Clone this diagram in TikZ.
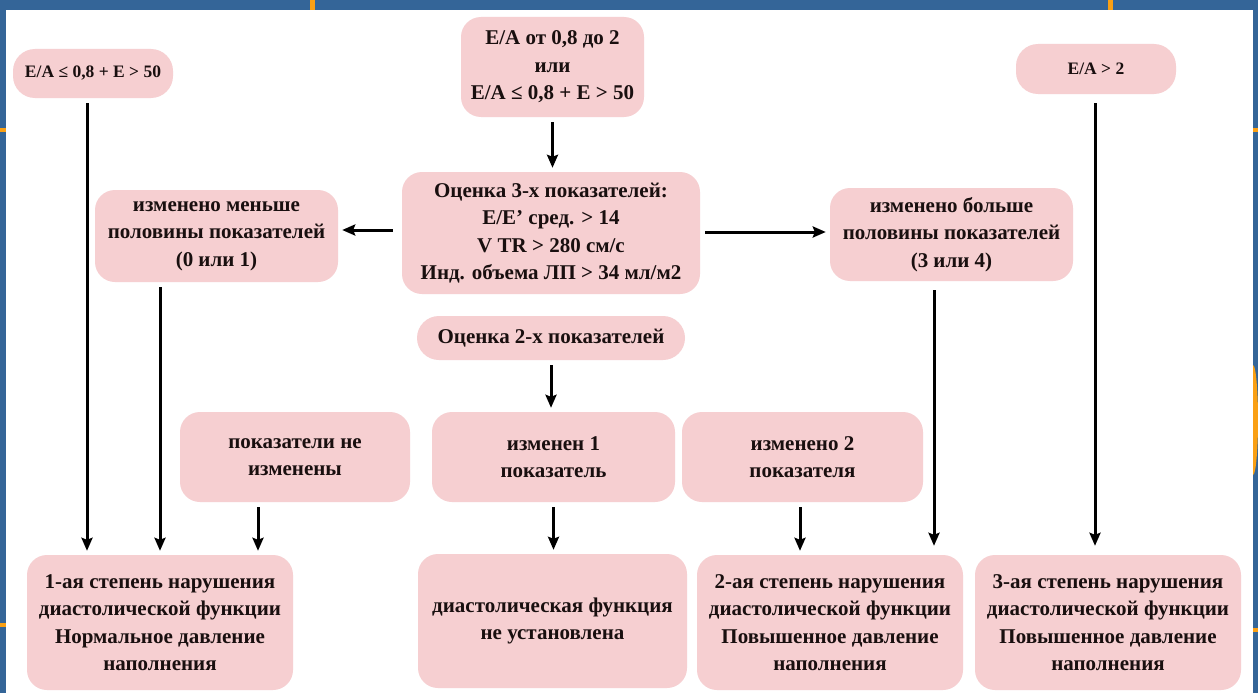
\documentclass[tikz,border=0pt]{standalone}
\usepackage{fontspec}
\setmainfont{Liberation Serif}
\usetikzlibrary{arrows.meta}
\definecolor{slideblue}{RGB}{52,101,152}
\definecolor{slideorange}{RGB}{250,160,20}
\definecolor{boxpink}{RGB}{246,207,209}
\definecolor{boxtext}{RGB}{25,15,15}
\tikzset{
  box/.style={fill=boxpink, rounded corners=20pt, align=center, inner sep=0pt,
    text=boxtext, font=\bfseries\fontsize{21}{27.5}\selectfont},
  pill/.style={box, rounded corners=22pt, font=\bfseries\fontsize{17.5}{22}\selectfont},
  arr/.style={->, >={Stealth[length=13pt,width=11pt,inset=2pt]}, line width=3pt,
    shorten <=5pt, shorten >=4pt}
}
\begin{document}
\begin{tikzpicture}[x=1pt,y=-1pt]
\useasboundingbox (0,0) rectangle (1258,693);
% Slide behind
\fill[slideblue] (0,0) rectangle (1258,693);
\fill[slideorange] (310,0) rectangle (315,10);
\fill[slideorange] (1108,0) rectangle (1113,10);
\fill[slideorange] (0,128) rectangle (6,132);
\fill[slideorange] (0,623) rectangle (6,627);
\fill[slideorange] (1253,128) rectangle (1258,132);
\fill[slideorange] (1253,628) rectangle (1258,632);
\fill[slideorange] (1253,365) arc[start angle=90,end angle=-90,x radius=5,y radius=-55] -- cycle;
\fill[white] (6,10) rectangle (1253,693);

% Top row
\node[pill, minimum width=160pt, minimum height=49pt] (ea1) at (93,73.5) {E/A ≤ 0,8 + E > 50};
\node[box, minimum width=183pt, minimum height=100pt] (ea2) at (552.5,67) {E/A от 0,8 до 2\\или\\E/A ≤ 0,8 + E > 50};
\node[pill, minimum width=160pt, minimum height=50pt] (ea3) at (1096,69) {E/A > 2};

% Three indices
\node[box, minimum width=298pt, minimum height=122pt] (est3) at (551,233) {Оценка 3-х показателей:\\E/E’ сред. > 14\\V TR > 280 см/с\\Инд. объема ЛП > 34 мл/м2};
\node[box, minimum width=243pt, minimum height=92pt] (less) at (216.5,236) {изменено меньше\\половины показателей\\(0 или 1)};
\node[box, minimum width=243pt, minimum height=93pt] (more) at (951.5,234.5) {изменено больше\\половины показателей\\(3 или 4)};

% Two indices
\node[box, rounded corners=22pt, minimum width=268pt, minimum height=44pt] (est2) at (551,338) {Оценка 2-х показателей};
\node[box, minimum width=230pt, minimum height=90pt] (none) at (295,457) {показатели не\\изменены};
\node[box, minimum width=243pt, minimum height=90pt] (one) at (553.5,457) {изменен 1\\показатель};
\node[box, minimum width=241pt, minimum height=90pt] (two) at (802.5,457) {изменено 2\\показателя};

% Grades
\node[box, minimum width=266pt, minimum height=135pt] (g1) at (160,622.5) {1-ая степень нарушения\\диастолической функции\\Нормальное давление\\наполнения};
\node[box, minimum width=269pt, minimum height=134pt] (gx) at (552.5,621) {диастолическая функция\\не установлена};
\node[box, minimum width=266pt, minimum height=135pt] (g2) at (830,622.5) {2-ая степень нарушения\\диастолической функции\\Повышенное давление\\наполнения};
\node[box, minimum width=266pt, minimum height=135pt] (g3) at (1108,622.5) {3-ая степень нарушения\\диастолической функции\\Повышенное давление\\наполнения};

% Arrows
\draw[arr] ([xshift=-6pt]ea1.south) -- ([xshift=-6pt]ea1.south |- g1.north);
\draw[arr] (less.south -| g1.north) -- (g1.north);
\draw[arr] ([xshift=-37pt]none.south) -- ([xshift=-37pt]none.south |- g1.north);
\draw[arr] (ea2.south) -- (ea2.south |- est3.north);
\draw[arr, shorten <=9pt] ([yshift=3pt]est3.west) -- ([yshift=3pt]est3.west -| less.east);
\draw[arr] ([yshift=1pt]est3.east) -- ([yshift=1pt]est3.east -| more.west);
\draw[arr] (est2.south) -- (est2.south |- one.north);
\draw[arr] (one.south) -- (one.south |- gx.north);
\draw[arr] ([xshift=-2.5pt]two.south) -- ([xshift=-2.5pt]two.south |- g2.north);
\draw[arr, shorten <=9pt, shorten >=9pt] ([xshift=-17.5pt]more.south) -- ([xshift=-17.5pt]more.south |- g2.north);
\draw[arr, shorten <=9pt, shorten >=9pt] ([xshift=-1pt]ea3.south) -- ([xshift=-1pt]ea3.south |- g3.north);
\end{tikzpicture}
\end{document}
